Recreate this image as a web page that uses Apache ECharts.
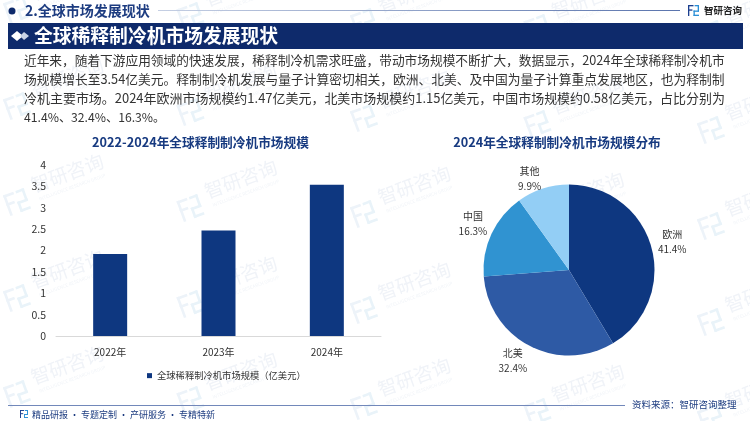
<!DOCTYPE html>
<html>
<head>
    <meta charset="utf-8">
    <title>全球稀释制冷机市场发展现状</title>
    <script src="https://cdn.jsdelivr.net/npm/echarts@6/dist/echarts.min.js"></script>
    <style>
        html, body { margin: 0; padding: 0; background: #fff; }
    </style>
</head>
<body>
    <div id="main" style="width: 750px; height: 421px;"></div>

    <script type="text/javascript">
        var years = ['2022年', '2023年', '2024年'];
        var marketSize = [1.92, 2.47, 3.54];
        var barName = '全球稀释制冷机市场规模（亿美元）';

        var regions = ['欧洲', '北美', '中国', '其他'];
        var regionShare = [41.4, 32.4, 16.3, 9.9];
        var regionColors = ['#0e3780', '#2e5aa5', '#3093d1', '#93cef5'];

        var sectionTitle = '2.全球市场发展现状';
        var bandTitle = '全球稀释制冷机市场发展现状';
        var barTitle = '2022-2024年全球释制制冷机市场规模';
        var pieTitle = '2024年全球释制制冷机市场规模分布';
        var bodyLines = [
            '近年来，随着下游应用领域的快速发展，稀释制冷机需求旺盛，带动市场规模不断扩大，数据显示，2024年全球稀释制冷机市',
            '场规模增长至3.54亿美元。释制制冷机发展与量子计算密切相关，欧洲、北美、及中国为量子计算重点发展地区，也为释制制',
            '冷机主要市场。2024年欧洲市场规模约1.47亿美元，北美市场规模约1.15亿美元，中国市场规模约0.58亿美元，占比分别为',
            '41.4%、32.4%、16.3%。'
        ];
        // 原图是两端对齐，这里每行字号微调
        var bodySizes = [12.7, 12.76, 12.98, 12.2];

        var FONT = '"Noto Sans CJK SC", "Noto Sans", sans-serif';
        var NAVY = '#0e2a6b';
        var myChart = echarts.init(document.getElementById('main'));

        // 页面上的装饰都放到 graphic 里
        var g = [];

        function text(x, y, str, size, color, extra) {
            var style = { x: x, y: y, text: str, fontSize: size, fill: color, fontFamily: FONT, textVerticalAlign: 'middle' };
            for (var k in (extra || {})) style[k] = extra[k];
            return { type: 'text', silent: true, z: 5, style: style };
        }
        function rect(x, y, w, h, color, z) {
            return { type: 'rect', silent: true, z: z === undefined ? 4 : z, shape: { x: x, y: y, width: w, height: h }, style: { fill: color } };
        }
        // 小logo 方块拼出来的
        function logo(x, y, s, c1, c2, z) {
            return [
                rect(x, y, 5 * s, 1.2 * s, c1, z), rect(x, y, 1.2 * s, 10 * s, c1, z),
                rect(x, y + 4 * s, 4 * s, 1.2 * s, c1, z),
                rect(x + 6 * s, y, 4 * s, 1.2 * s, c2, z), rect(x + 8.8 * s, y, 1.2 * s, 6 * s, c2, z),
                rect(x + 5 * s, y + 5 * s, 5 * s, 1.2 * s, c2, z), rect(x + 5 * s, y + 5 * s, 1.2 * s, 5 * s, c2, z),
                rect(x + 5 * s, y + 8.8 * s, 5 * s, 1.2 * s, c2, z)
            ];
        }

        // 水印
        for (var i = 0; i < 5; i++) {
            for (var j = -2; j < 3; j++) {
                g.push({
                    type: 'group', silent: true, x: 17 + 173.5 * i, y: 202 + 96 * j + 6 * i, rotation: 0.35,
                    children: logo(-11, -11, 2.2, '#edf3f9', '#e9f3f9', 0).concat([
                        { type: 'text', silent: true, z: 0, style: { x: 57, y: -10, text: '智研咨询', fontSize: 19, fill: '#f0f3f8', fontFamily: FONT, textAlign: 'center', textVerticalAlign: 'middle' } },
                        { type: 'text', silent: true, z: 0, style: { x: 57, y: 5, text: 'INTELLIGENCE RESEARCH GROUP', fontSize: 4.5, fill: '#f1f4f8', fontFamily: FONT, textAlign: 'center', textVerticalAlign: 'middle' } }
                    ])
                });
            }
        }

        // 顶部
        g.push({ type: 'circle', silent: true, z: 5, shape: { cx: 12, cy: 11, r: 3.5 }, style: { fill: NAVY } });
        g.push(text(25, 11, sectionTitle, 14, '#1d3c80', { fontWeight: 'bold' }));
        g.push({
            type: 'rect', silent: true, z: 4, shape: { x: 158, y: 10, width: 522, height: 1 },
            style: { fill: new echarts.graphic.LinearGradient(0, 0, 1, 0, [{ offset: 0, color: '#c5cfe3' }, { offset: 1, color: '#5a74ad' }]) }
        });
        g = g.concat(logo(688, 5, 1.1, '#1c3f8f', '#2a8fd6', 5));
        g.push(text(704, 10, '智研咨询', 9.5, '#222', { fontWeight: 'bold' }));

        // 标题条
        g.push(rect(8, 23, 735, 26, NAVY));
        g.push({ type: 'polygon', silent: true, z: 5, shape: { points: [[11, 36], [17, 31], [23, 36], [17, 41]] }, style: { fill: '#fff' } });
        g.push({ type: 'polygon', silent: true, z: 5, shape: { points: [[20, 36], [24, 32], [29, 36], [24, 40]] }, style: { fill: '#c9d3e6' } });
        g.push(text(34, 36, bandTitle, 18.8, '#fff', { fontWeight: 'bold' }));

        // 正文
        bodyLines.forEach(function (line, i) {
            g.push(text(24, 60.5 + i * 19, line, bodySizes[i], '#333'));
        });

        // 小标题
        g.push(text(200.5, 142, barTitle, 12.7, '#173a80', { fontWeight: 'bold', textAlign: 'center' }));
        g.push(text(557, 142, pieTitle, 12.7, '#173a80', { fontWeight: 'bold', textAlign: 'center' }));

        // 底部
        g.push(rect(8, 405, 617, 1, '#7288ba'));
        g = g.concat(logo(20, 410, 0.8, '#1c3f8f', '#2a8fd6', 5));
        g.push(text(32, 415, '精品研报 · 专题定制 · 产研服务 · 专精特新', 9, '#1d3c80'));
        g.push(text(632, 404, '资料来源：智研咨询整理', 9.5, '#1d3c80'));

        // 饼图标签的微调偏移
        var labelShift = [[8, -4], [-6, 11], [-6, -8], [-3, -6]];

        var option = {
            animation: false,
            backgroundColor: '#fff',
            textStyle: { fontFamily: FONT },
            graphic: g,
            legend: {
                data: [barName],
                left: 142,
                top: 366,
                itemWidth: 5,
                itemHeight: 5,
                itemGap: 3,
                icon: 'rect',
                textStyle: { fontSize: 9.3, color: '#333', fontFamily: FONT }
            },
            grid: { left: 56, top: 165, width: 325, height: 171 },
            xAxis: {
                type: 'category',
                data: years,
                axisLine: { lineStyle: { color: '#d9d9d9' } },
                axisTick: { show: false },
                axisLabel: { color: '#333', fontSize: 10, margin: 11 }
            },
            yAxis: {
                type: 'value',
                min: 0,
                max: 4,
                interval: 0.5,
                axisLine: { show: false },
                axisTick: { show: false },
                splitLine: { show: false },
                axisLabel: { color: '#333', fontSize: 10.5, margin: 10 }
            },
            series: [
                {
                    name: barName,
                    type: 'bar',
                    data: marketSize,
                    barWidth: 34,
                    itemStyle: { color: '#0e3780' }
                },
                {
                    type: 'pie',
                    center: [569, 270],
                    radius: [0, 85.5],
                    startAngle: 90,
                    clockwise: true,
                    data: regions.map(function (name, i) {
                        return { name: name, value: regionShare[i], itemStyle: { color: regionColors[i] } };
                    }),
                    label: {
                        position: 'outside',
                        formatter: function (p) { return p.name + '\n' + p.value.toFixed(1) + '%'; },
                        color: '#333',
                        fontSize: 10,
                        lineHeight: 15,
                        align: 'center'
                    },
                    labelLine: { show: false, length: 4, length2: 4 },
                    labelLayout: function (p) {
                        return { align: 'center', dx: labelShift[p.dataIndex][0], dy: labelShift[p.dataIndex][1] };
                    }
                }
            ]
        };

        myChart.setOption(option);
    </script>
</body>
</html>
